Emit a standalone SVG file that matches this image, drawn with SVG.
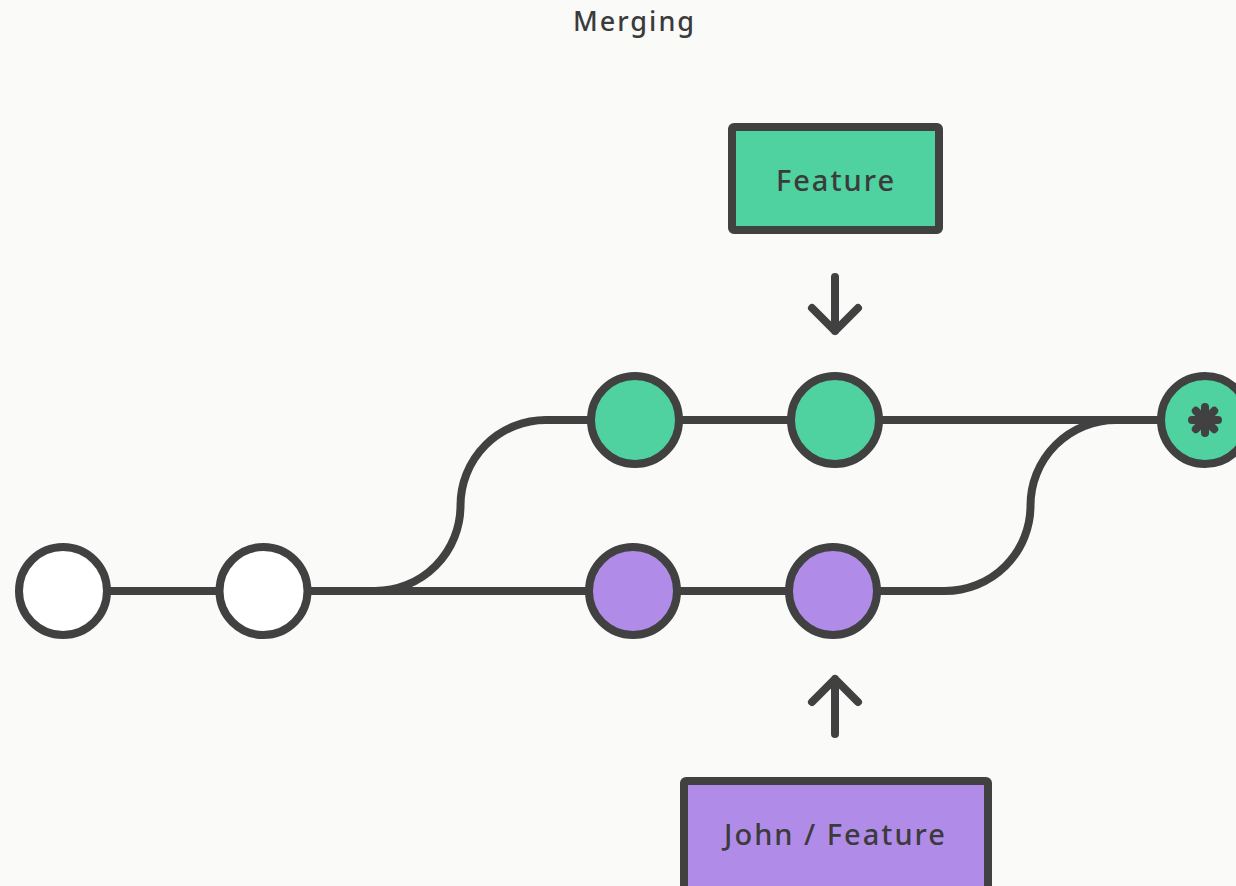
<svg xmlns="http://www.w3.org/2000/svg" width="1236" height="886" viewBox="0 0 1236 886">
<style>
.ln{fill:none;stroke:#414141;stroke-width:8;stroke-linecap:round;stroke-linejoin:round}
.c{stroke:#414141;stroke-width:8}
.w{fill:#ffffff}
.g{fill:#4fd1a0}
.p{fill:#b08ce8}
.t{font-family:"Noto Sans","Liberation Sans",sans-serif;font-weight:500;fill:#3b3b3b;text-anchor:middle}
</style>
<rect width="1236" height="886" fill="#fafaf8"/>
<text class="t" x="634.5" y="31" font-size="27" letter-spacing="2">Merging</text>
<g id="connectors">
<path class="ln" d="M63,591 H833"/>
<path class="ln" d="M375,591 A85.5,85.5 0 0 0 460.5,505.5 A85.5,85.5 0 0 1 546,420 H1205"/>
<path class="ln" d="M833,591 H945 A85.5,85.5 0 0 0 1030.5,505.5 A85.5,85.5 0 0 1 1116,420"/>
<path class="ln" d="M835,277 V331 M812,308 L835,331 L858,308"/>
<path class="ln" d="M835,734 V679 M812,702 L835,679 L858,702"/>
</g>
<g id="c1"><circle class="c w" cx="63" cy="591" r="44"/></g>
<g id="c2"><circle class="c w" cx="263.5" cy="591" r="44"/></g>
<g id="g1"><circle class="c g" cx="635" cy="420" r="44"/></g>
<g id="g2"><circle class="c g" cx="835" cy="420" r="44"/></g>
<g id="p1"><circle class="c p" cx="633" cy="591" r="44"/></g>
<g id="p2"><circle class="c p" cx="833" cy="591" r="44"/></g>
<g id="merge">
<circle class="c g" cx="1205" cy="420" r="44"/>
<path class="ln" stroke-width="7" d="M1205,407 V433 M1192,420 H1218 M1195.8,410.8 L1214.2,429.2 M1214.2,410.8 L1195.8,429.2"/>
<circle cx="1205" cy="420" r="8" fill="#414141"/>
</g>
<g id="feature">
<rect class="c g" x="732" y="127" width="207" height="103" rx="2"/>
<text class="t" x="836" y="191" font-size="29" letter-spacing="2">Feature</text>
</g>
<g id="johnfeature">
<rect class="c p" x="684" y="781" width="304" height="120" rx="2"/>
<text class="t" x="835.5" y="845" font-size="29" letter-spacing="2">John / Feature</text>
</g>
</svg>
